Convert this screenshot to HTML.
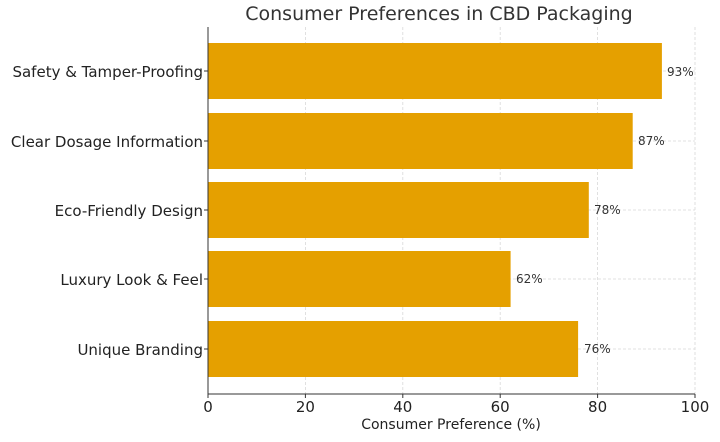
<!DOCTYPE html>
<html><head><meta charset="utf-8"><style>body{margin:0;background:#fff}</style></head><body>
<svg width="720" height="437" xmlns="http://www.w3.org/2000/svg" font-family="DejaVu Sans, Liberation Sans, sans-serif">
<rect width="720" height="437" fill="#fff"/>
<g stroke="#d8d8d8" stroke-width="0.8" stroke-dasharray="3,2">
<line x1="305.4" y1="27" x2="305.4" y2="394"/>
<line x1="402.8" y1="27" x2="402.8" y2="394"/>
<line x1="500.2" y1="27" x2="500.2" y2="394"/>
<line x1="597.6" y1="27" x2="597.6" y2="394"/>
<line x1="695" y1="27" x2="695" y2="394"/>
<line x1="208" y1="71" x2="695" y2="71"/>
<line x1="208" y1="141" x2="695" y2="141"/>
<line x1="208" y1="210" x2="695" y2="210"/>
<line x1="208" y1="279" x2="695" y2="279"/>
<line x1="208" y1="349" x2="695" y2="349"/>
</g>
<g fill="#e5a000">
<rect x="208" y="43" width="453.9" height="56"/>
<rect x="208" y="113" width="424.7" height="56"/>
<rect x="208" y="182" width="380.8" height="56"/>
<rect x="208" y="251" width="302.6" height="56"/>
<rect x="208" y="321" width="370.1" height="56"/>
</g>
<g stroke="#333" stroke-width="1">
<line x1="208" y1="27" x2="208" y2="394.5"/>
<line x1="207.5" y1="394" x2="695" y2="394"/>
<line x1="204" y1="71" x2="208" y2="71"/><line x1="204" y1="141" x2="208" y2="141"/><line x1="204" y1="210" x2="208" y2="210"/><line x1="204" y1="279" x2="208" y2="279"/><line x1="204" y1="349" x2="208" y2="349"/>
<line x1="208" y1="394" x2="208" y2="398"/><line x1="305.4" y1="394" x2="305.4" y2="398"/><line x1="402.8" y1="394" x2="402.8" y2="398"/><line x1="500.2" y1="394" x2="500.2" y2="398"/><line x1="597.6" y1="394" x2="597.6" y2="398"/><line x1="695" y1="394" x2="695" y2="398"/>
</g>
<text x="439" y="20" font-size="19" fill="#333" text-anchor="middle">Consumer Preferences in CBD Packaging</text>
<g font-size="15" fill="#222" text-anchor="end">
<text x="203" y="77">Safety &amp; Tamper-Proofing</text>
<text x="203" y="147">Clear Dosage Information</text>
<text x="203" y="216">Eco-Friendly Design</text>
<text x="203" y="285">Luxury Look &amp; Feel</text>
<text x="203" y="355">Unique Branding</text>
</g>
<g font-size="12" fill="#333">
<text x="667" y="76">93%</text>
<text x="638" y="145">87%</text>
<text x="594" y="214">78%</text>
<text x="516" y="283">62%</text>
<text x="584" y="353">76%</text>
</g>
<g font-size="15" fill="#222" text-anchor="middle">
<text x="208" y="412">0</text><text x="305.4" y="412">20</text><text x="402.8" y="412">40</text><text x="500.2" y="412">60</text><text x="597.6" y="412">80</text><text x="695" y="412">100</text>
</g>
<text x="451" y="429" font-size="14" fill="#222" text-anchor="middle">Consumer Preference (%)</text>
</svg>
</body></html>
